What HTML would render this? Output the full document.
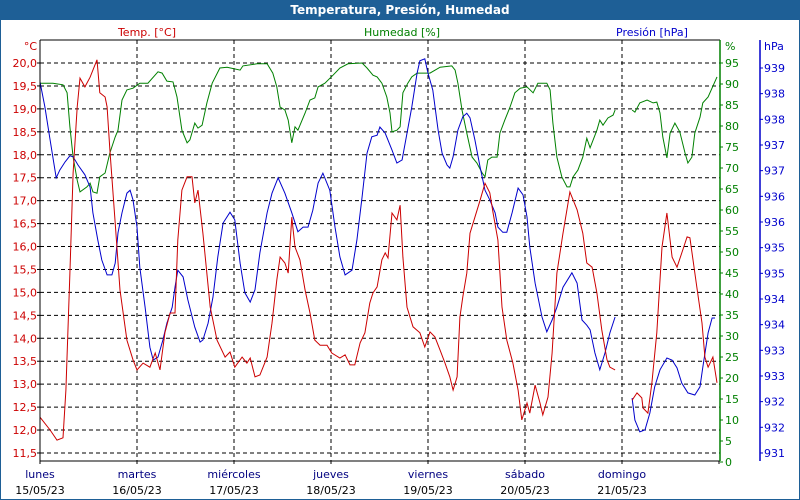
<!DOCTYPE html>
<html><head><meta charset="utf-8">
<style>
html,body{margin:0;padding:0;background:#fff;}
#wrap{position:relative;width:800px;height:500px;overflow:hidden;font-family:"DejaVu Sans","Liberation Sans",sans-serif;}
</style></head>
<body>
<div id="wrap">
<svg id="chart" width="800" height="500" xmlns="http://www.w3.org/2000/svg" font-family="DejaVu Sans, Liberation Sans, sans-serif" font-size="11">
  <rect x="0" y="0" width="800" height="500" fill="#fff" stroke="#1e5f96" stroke-width="2"/>
  <rect x="0" y="0" width="800" height="20" fill="#1e5f96"/>
  <text x="400" y="14" text-anchor="middle" fill="#fff" font-weight="bold" font-size="12">Temperatura, Presión, Humedad</text>
  <text x="147" y="36" text-anchor="middle" fill="#cc0000">Temp. [°C]</text>
  <text x="402" y="36" text-anchor="middle" fill="#008000">Humedad [%]</text>
  <text x="652" y="36" text-anchor="middle" fill="#0000cc">Presión [hPa]</text>
  <text x="37" y="50" text-anchor="end" fill="#cc0000">°C</text>
  <text x="725" y="50" fill="#008000">%</text>
  <text x="764" y="50" fill="#0000cc">hPa</text>
  <g id="grid"></g>
  <g id="series"></g>
  <g id="axes"></g>
</svg>
</div>
<script>
const dayNames = ["lunes","martes","miércoles","jueves","viernes","sábado","domingo"];
const dayDates = ["15/05/23","16/05/23","17/05/23","18/05/23","19/05/23","20/05/23","21/05/23"];
const tempTicks = [20.0,19.5,19.0,18.5,18.0,17.5,17.0,16.5,16.0,15.5,15.0,14.5,14.0,13.5,13.0,12.5,12.0,11.5];
const humTicks = [95,90,85,80,75,70,65,60,55,50,45,40,35,30,25,20,15,10,5,0];
const presTickValues = [939,938.5,938,937.5,937,936.5,936,935.5,935,934.5,934,933.5,933,932.5,932,931.5];
const presTickLabels = ["939","938","938","937","937","936","936","935","935","934","934","933","933","932","932","931"];

const tempHours = [0,2.5,4.2,5.7,6.4,7.4,8.2,9.2,9.9,11.1,12.4,14.1,14.8,16.1,16.6,17.3,18.6,19.8,21.5,23.0,24.0,25.5,27.2,28.5,29.7,30.9,32.2,33.4,34.1,35.1,36.4,37.6,38.3,39.1,40.3,42.1,43.8,45.8,47.0,48.2,50.0,51.2,52.0,53.2,54.4,56.2,57.4,58.6,59.4,60.6,61.4,62.3,63.1,64.3,65.6,66.8,68.0,69.3,71.0,72.2,74.2,75.5,76.7,77.9,79.2,80.4,81.6,82.4,83.4,84.6,85.4,86.1,87.1,88.3,89.1,89.8,90.8,92.3,94.0,95.2,96.5,97.7,99.0,100.2,101.4,102.2,103.2,103.9,104.6,105.6,106.4,107.6,108.9,110.1,111.3,112.1,113.3,114.3,115.5,117.0,118.3,119.2,120.5,121.2,122.5,123.7,124.4,125.7,126.7,127.9,129.4,131.1,132.9,134.3,135.3,136.6,137.8,139.0,140.3,141.0,142.3,144.4,146.5,147.7,148.9,149.2,150.4,151.4,152.6,153.9,155.1,156.4,157.6,158.8,160.1,160.8,162.5,163.8,164.5,165.3,166.5,167.5];
const tempValues = [12.28,12.00,11.78,11.83,12.87,15.42,17.60,19.04,19.67,19.48,19.69,20.07,19.35,19.26,19.04,18.10,16.51,15.05,13.96,13.53,13.31,13.46,13.37,13.68,13.31,14.12,14.55,14.55,16.14,17.23,17.52,17.52,16.95,17.23,16.29,14.68,13.96,13.59,13.70,13.37,13.59,13.46,13.57,13.16,13.20,13.59,14.33,15.27,15.77,15.64,15.42,16.64,15.99,15.71,15.05,14.55,13.96,13.85,13.85,13.68,13.57,13.64,13.42,13.42,13.90,14.12,14.77,14.99,15.12,15.71,15.86,15.75,16.73,16.58,16.90,15.77,14.68,14.25,14.12,13.81,14.14,14.03,13.74,13.46,13.16,12.87,13.16,14.46,14.90,15.42,16.29,16.64,17.01,17.38,17.17,16.73,16.14,14.68,13.96,13.46,12.87,12.22,12.59,12.37,12.98,12.59,12.33,12.72,13.68,15.42,16.29,17.19,16.80,16.29,15.64,15.55,14.99,14.18,13.53,13.37,13.31,null,12.65,12.81,12.70,12.48,12.37,13.03,14.12,15.99,16.73,15.77,15.55,15.86,16.21,16.19,15.12,14.33,13.59,13.37,13.59,13.03];

const humHours = [0,3.2,5.7,6.7,7.4,8.2,9.2,9.9,11.6,12.4,13.1,14.1,14.8,16.1,17.3,18.6,19.3,20.3,21.5,23.0,24.7,26.7,29.2,30.2,31.4,32.9,33.9,35.1,36.4,37.1,38.3,39.1,40.1,41.3,42.6,44.5,46.3,49.5,50.2,53.7,56.2,57.6,58.6,59.4,60.6,61.4,62.3,63.1,63.8,65.6,66.8,68.0,68.8,70.5,72.5,74.2,76.2,79.7,80.9,82.4,83.4,84.6,85.8,86.6,87.1,88.3,89.1,89.8,91.0,92.0,93.3,96.5,99.0,101.9,102.7,103.4,104.4,105.6,106.9,108.1,109.4,110.1,110.8,111.8,113.1,113.8,115.0,116.3,117.5,118.8,120.5,122.0,123.2,125.4,126.2,126.9,127.9,129.1,130.4,131.1,131.9,133.1,134.3,135.3,136.1,137.8,138.5,139.3,140.5,141.8,142.3,144.4,146.5,147.2,148.4,150.2,151.7,152.6,153.4,154.1,155.1,155.9,157.1,158.3,159.6,160.3,161.3,162.0,163.3,164.0,165.3,167.5];
const humValues = [90.2,90.2,89.8,87.9,79.8,72.6,67.1,64.3,65.5,66.4,64.3,64.0,67.9,68.8,73.6,77.4,79.0,86.2,88.6,89.0,90.2,90.2,92.9,92.6,90.7,90.5,86.9,79.0,76.0,76.7,80.7,79.5,80.2,85.5,90.2,93.8,94.0,93.3,94.3,94.8,94.8,92.6,89.3,84.5,83.8,81.4,76.0,79.8,79.0,83.1,86.2,86.7,89.3,90.2,92.1,93.8,94.8,95.0,93.8,92.1,91.7,90.2,86.9,83.1,78.6,79.0,79.8,87.9,90.2,91.7,92.6,92.6,94.0,94.3,93.3,90.2,83.8,78.3,72.6,71.2,68.8,67.9,71.9,72.6,72.6,78.3,81.4,84.5,87.9,89.0,89.3,87.9,90.2,90.2,88.6,80.7,72.6,67.9,65.5,65.5,67.9,69.5,72.6,77.1,74.8,79.0,81.4,80.2,81.9,82.6,83.8,null,83.8,83.3,85.5,86.2,85.5,85.7,83.1,77.4,72.4,78.3,80.7,78.6,73.6,71.2,72.6,78.3,82.1,85.5,86.9,91.7];

const presHours = [0,1.2,2.5,4.0,4.9,6.2,7.4,8.2,9.4,11.1,12.4,13.1,14.3,15.3,16.6,17.8,18.6,19.3,20.3,21.5,22.3,23.0,24.0,24.7,26.0,27.2,28.0,29.2,30.4,31.4,32.7,33.4,34.1,35.4,36.6,38.3,39.6,40.3,41.6,42.8,44.0,45.3,47.0,48.2,49.5,50.7,52.0,53.2,54.4,56.2,57.4,58.9,60.6,62.3,63.8,65.1,66.3,67.5,68.8,70.0,71.7,73.0,74.2,75.5,77.2,78.4,79.7,80.9,82.1,83.4,84.1,85.4,87.1,88.3,89.6,90.8,92.0,93.3,94.0,95.2,96.0,97.2,98.5,99.5,100.7,101.4,102.2,103.4,104.6,105.6,106.4,107.6,108.9,110.1,111.3,112.6,113.3,114.5,115.5,116.8,118.3,119.5,120.5,121.2,122.5,124.2,125.4,126.7,127.9,129.4,131.6,132.9,134.1,135.3,136.1,137.3,138.5,139.8,141.0,142.3,144.4,146.5,147.2,148.4,149.7,150.9,152.1,153.4,155.1,156.4,157.6,158.8,160.3,162.0,163.3,164.0,165.3,166.3,167.0];
const presValues = [938.73,938.24,937.60,936.86,937.01,937.17,937.29,937.27,937.11,936.92,936.68,936.18,935.65,935.26,934.97,934.97,935.20,935.79,936.18,936.56,936.62,936.43,935.90,935.12,934.34,933.56,933.31,933.37,933.70,934.03,934.34,934.73,935.06,934.93,934.48,933.95,933.66,933.70,934.03,934.54,935.32,935.98,936.19,936.04,935.20,934.62,934.44,934.68,935.40,936.18,936.56,936.86,936.56,936.18,935.81,935.90,935.90,936.23,936.76,936.95,936.62,935.90,935.32,934.97,935.06,935.65,936.49,937.34,937.66,937.69,937.85,937.73,937.40,937.15,937.21,937.73,938.24,938.90,939.14,939.18,938.90,938.57,937.79,937.34,937.11,937.05,937.27,937.79,938.05,938.12,938.03,937.60,937.07,936.62,936.43,936.18,935.90,935.80,935.80,936.18,936.66,936.53,936.10,935.51,934.81,934.15,933.86,934.09,934.34,934.73,935.01,934.81,934.09,933.99,933.90,933.45,933.12,933.45,933.84,934.15,null,932.57,932.14,931.91,931.95,932.28,932.79,933.12,933.35,933.31,933.16,932.86,932.67,932.63,932.79,933.17,933.84,934.13,934.13];

const NS = "http://www.w3.org/2000/svg";
const PL = 40, PR = 720, PT = 40, PB = 461;
function xOf(h){ return PL + h / 24 * 97; }
function yTemp(t){ return 63 + (20 - t) * 45.88; }
function yHum(v){ return 462 - v * 4.2; }
function yPres(p){ return 68 + (939 - p) * 51.33; }
function mk(tag, attrs, parent){
  const e = document.createElementNS(NS, tag);
  for (const k in attrs) e.setAttribute(k, attrs[k]);
  parent.appendChild(e);
  return e;
}
const grid = document.getElementById('grid');
const series = document.getElementById('series');
const axes = document.getElementById('axes');

// horizontal grid + temp labels
tempTicks.forEach((t, i) => {
  const y = yTemp(t);
  if (i > 0 || true) {
    const l = mk('line', {x1: PL, x2: PR, y1: y, y2: y, stroke: '#000', 'stroke-dasharray': '4,3'}, grid);
    
    
  }
  const tx = mk('text', {x: 37, y: y + 4, 'text-anchor': 'end', fill: '#cc0000'}, axes);
  tx.textContent = t.toFixed(1).replace('.', ',');
  
  
  const tk = mk('line', {x1: PL - 3, x2: PL, y1: y, y2: y, stroke: '#000'}, axes);
  
  
});
// vertical day grid + labels
for (let d = 0; d < 8; d++) {
  const x = xOf(d * 24);
  if (d > 0 && d < 7) {
    const l = mk('line', {x1: x, x2: x, y1: PT, y2: PB, stroke: '#000', 'stroke-dasharray': '4,3'}, grid);
    
    
  }
  const tk = mk('line', {x1: x, x2: x, y1: PB, y2: PB + 3, stroke: '#000'}, axes);
  
  
  if (d < 7) {
    const t1 = mk('text', {x: x, y: 478, 'text-anchor': 'middle', fill: '#000080'}, axes);
    t1.textContent = dayNames[d];
    
    
    const t2 = mk('text', {x: x, y: 494, 'text-anchor': 'middle', fill: '#000'}, axes);
    t2.textContent = dayDates[d];
    
    
  }
}
// axis lines
let a;
a = mk('line', {x1: PL, x2: PL, y1: PT, y2: PB, stroke: '#000'}, axes);
 
a = mk('line', {x1: PL, x2: PR, y1: PT, y2: PT, stroke: '#000'}, axes);
 
a = mk('line', {x1: PL, x2: PR, y1: PB, y2: PB, stroke: '#000'}, axes);
 
a = mk('line', {x1: PR, x2: PR, y1: PT, y2: PB, stroke: '#008000', 'stroke-width': 1.5}, axes);
 
a = mk('line', {x1: 760, x2: 760, y1: PT, y2: PB, stroke: '#0000cc', 'stroke-width': 1.5}, axes);
 
// humidity ticks
humTicks.forEach(v => {
  const y = yHum(v);
  const tk = mk('line', {x1: PR, x2: PR + 3, y1: y, y2: y, stroke: '#008000'}, axes);
  
  
  const tx = mk('text', {x: 725, y: y + 4, fill: '#008000'}, axes);
  tx.textContent = String(v);
  
  
});
// pressure ticks
presTickValues.forEach((p, i) => {
  const y = yPres(p);
  const tk = mk('line', {x1: 760, x2: 763, y1: y, y2: y, stroke: '#0000cc'}, axes);
  
  
  const tx = mk('text', {x: 764, y: y + 4, fill: '#0000cc'}, axes);
  tx.textContent = presTickLabels[i];
  
  
});
// series
function pathFor(hours, vals, yf){
  let d = '', pen = false;
  for (let i = 0; i < hours.length; i++) {
    if (vals[i] === null) { pen = false; continue; }
    d += (pen ? 'L' : 'M') + xOf(hours[i]).toFixed(1) + ',' + yf(vals[i]).toFixed(1);
    pen = true;
  }
  return d;
}
let s;
s = mk('path', {d: pathFor(humHours, humValues, yHum), fill: 'none', stroke: '#008000', 'stroke-width': 1}, series);
 
s = mk('path', {d: pathFor(presHours, presValues, yPres), fill: 'none', stroke: '#0000cc', 'stroke-width': 1}, series);
 
s = mk('path', {d: pathFor(tempHours, tempValues, yTemp), fill: 'none', stroke: '#cc0000', 'stroke-width': 1}, series);
 
</script>
</body></html>
